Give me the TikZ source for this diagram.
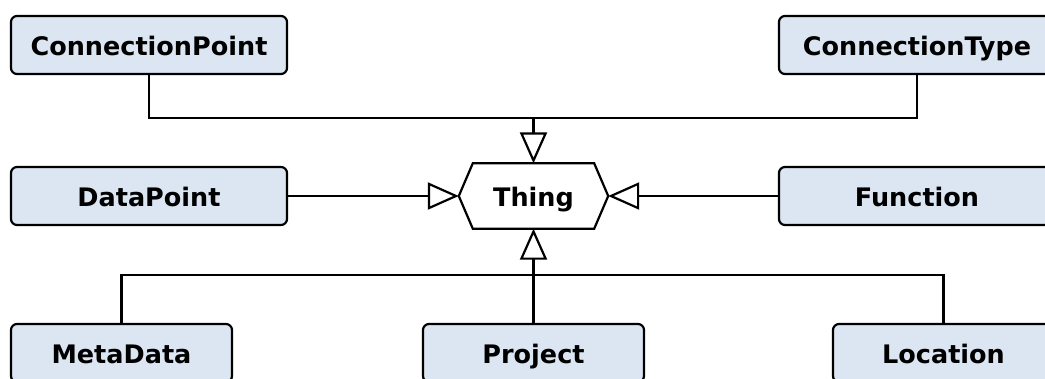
\documentclass[tikz,border=0pt]{standalone}
\usepackage{fontspec}
\setmainfont{DejaVu Sans}
\usetikzlibrary{arrows.meta}
\definecolor{boxfill}{HTML}{DCE6F2}
\begin{document}
\begin{tikzpicture}[x=1pt,y=-1pt,
  label font/.style={font=\bfseries\fontsize{25.5}{30}\selectfont},
  entity/.style={draw=black, fill=boxfill, line width=2.2pt, rounded corners=6pt,
    minimum height=58pt, inner sep=0pt, text height=24pt, text depth=4pt, label font},
  widebox/.style={entity, minimum width=276pt},
  narrowbox/.style={entity, minimum width=221pt},
  link/.style={line width=2.2pt},
  inherit/.style={link, -{Triangle[open, length=31pt, width=27pt]}}
]
\useasboundingbox (0,0) rectangle (1045,378);
\clip (0,0) rectangle (1045,378);

% central class
\node[minimum width=149pt, minimum height=65pt, inner sep=0pt,
      text height=24pt, text depth=4pt, label font] (thing) at (533.5,196) {Thing};
\draw[line width=2.2pt, line join=miter]
  (thing.west) -- ([xshift=14pt]thing.north west) -- ([xshift=-14pt]thing.north east)
  -- (thing.east) -- ([xshift=-14pt]thing.south east) -- ([xshift=14pt]thing.south west) -- cycle;

% subclasses
\node[widebox] (cpoint) at (149,45) {ConnectionPoint};
\node[widebox] (ctype) at (917,45) {ConnectionType};
\node[widebox] (dpoint) at (149,196) {DataPoint};
\node[widebox] (func) at (917,196) {Function};
\node[narrowbox] (meta) at (121.5,353) {MetaData};
\node[narrowbox] (proj) at (533.5,353) {Project};
\node[narrowbox] (loc) at (943.5,353) {Location};

% top bus
\coordinate (topjoin) at (thing.north |- 0,118);
\draw[link] (cpoint.south) |- (topjoin) -| (ctype.south);
\draw[inherit] (topjoin) -- (thing.north);

% side links
\draw[inherit] (dpoint.east) -- (thing.west);
\draw[inherit] (func.west) -- (thing.east);

% bottom bus
\coordinate (botjoin) at (thing.south |- 0,275);
\draw[link] (meta.north) |- (botjoin) -| (loc.north);
\draw[inherit] (proj.north) -- (thing.south);
\end{tikzpicture}
\end{document}
